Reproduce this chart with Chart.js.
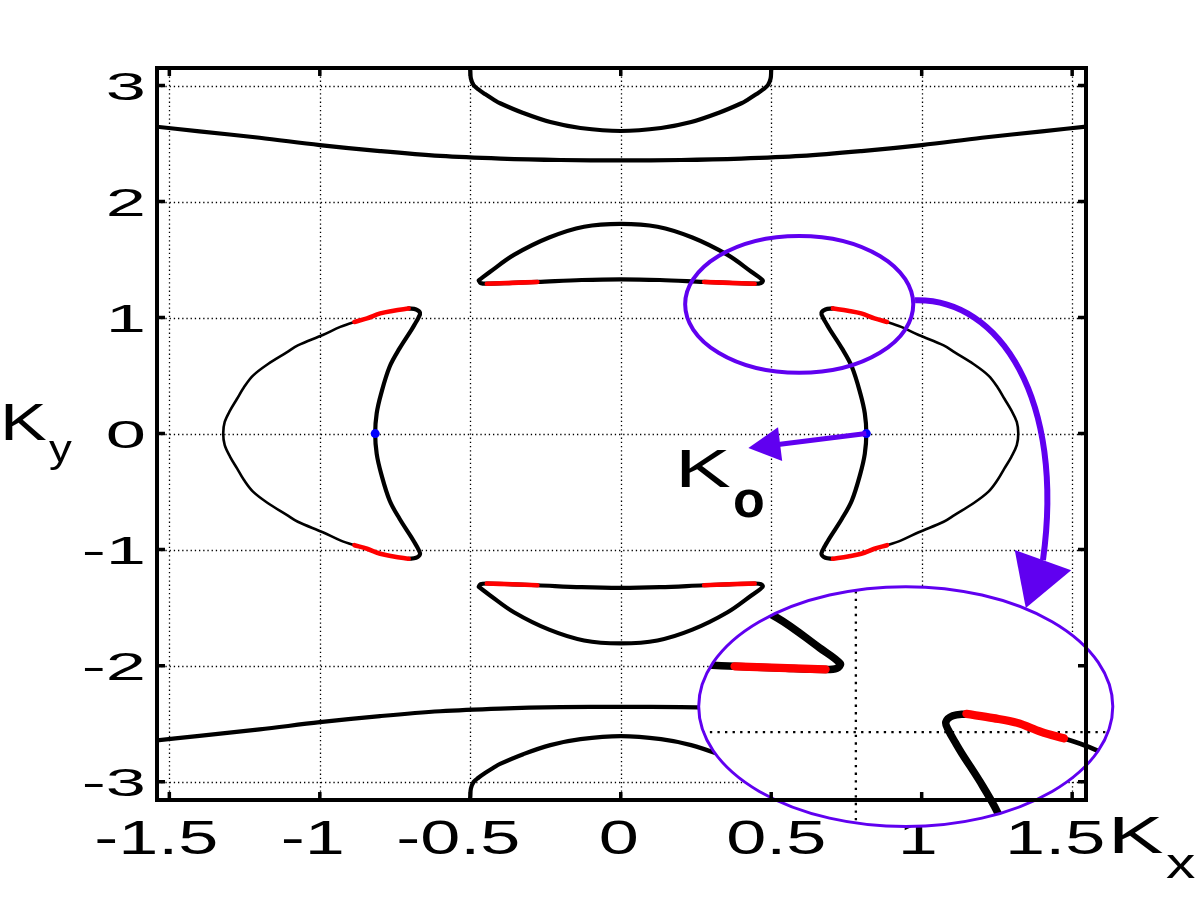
<!DOCTYPE html>
<html>
<head>
<meta charset="utf-8">
<title>Constant energy contours</title>
<script src="https://cdn.jsdelivr.net/npm/chart.js@4.4.1/dist/chart.umd.min.js"></script>
<style>
  html, body { margin: 0; padding: 0; background: #fff; }
  canvas { display: block; }
</style>
</head>
<body>
<canvas id="contourChart" width="1200" height="900"></canvas>
<script>
// ============================================
// DATA
// ============================================

const xTicks = [-1.5, -1, -0.5, 0, 0.5, 1, 1.5];
const xTickLabels = ['-1.5', '-1', '-0.5', '0', '0.5', '1', '1.5'];
const yTicks = [-3, -2, -1, 0, 1, 2, 3];
const yTickLabels = ['-3', '-2', '-1', '0', '1', '2', '3'];
const X_RANGE = [-1.541, 1.546];
const Y_RANGE = [-3.158, 3.151];

// long open curves near the top and bottom edge
const topLong = [[-1.56,2.65],[-1.4,2.605],[-1.2,2.55],[-1.0,2.487],[-0.8,2.435],[-0.6,2.393],[-0.4,2.37],[-0.2,2.358],[0,2.355],[0.2,2.358],[0.4,2.37],[0.6,2.393],[0.8,2.435],[1.0,2.487],[1.2,2.55],[1.4,2.605],[1.56,2.65]];
const bottomLong = [[-1.56,-2.65],[-1.4,-2.605],[-1.2,-2.55],[-1.0,-2.487],[-0.8,-2.435],[-0.6,-2.393],[-0.4,-2.37],[-0.2,-2.358],[0,-2.355],[0.2,-2.358],[0.4,-2.37],[0.6,-2.393],[0.8,-2.435],[1.0,-2.487],[1.2,-2.55],[1.4,-2.605],[1.56,-2.65]];

// caps cut by the top / bottom border
const topCap = [[-0.502,3.17],[-0.5,3.132],[-0.498,3.06],[-0.489,3.003],[-0.473,2.966],[-0.451,2.926],[-0.423,2.88],[-0.401,2.847],[-0.324,2.763],[-0.234,2.685],[-0.134,2.634],[0,2.608],[0.134,2.634],[0.234,2.685],[0.324,2.763],[0.401,2.847],[0.423,2.88],[0.451,2.926],[0.473,2.966],[0.489,3.003],[0.498,3.06],[0.5,3.132],[0.502,3.17]];
const bottomCap = [[-0.502,-3.17],[-0.5,-3.132],[-0.498,-3.06],[-0.489,-3.003],[-0.473,-2.966],[-0.451,-2.926],[-0.423,-2.88],[-0.401,-2.847],[-0.324,-2.763],[-0.234,-2.685],[-0.134,-2.634],[0,-2.608],[0.134,-2.634],[0.234,-2.685],[0.324,-2.763],[0.401,-2.847],[0.423,-2.88],[0.451,-2.926],[0.473,-2.966],[0.489,-3.003],[0.498,-3.06],[0.5,-3.132],[0.502,-3.17]];

// upper / lower crescents (closed)
const upperCrescent = [[-0.472,1.32],[-0.434,1.395],[-0.355,1.54],[-0.238,1.69],[-0.122,1.783],[0,1.808],[0.122,1.783],[0.238,1.69],[0.355,1.54],[0.434,1.395],[0.472,1.32],[0.466,1.298],[0.445,1.292],[0.36,1.299],[0.277,1.307],[0.13,1.324],[0,1.33],[-0.13,1.324],[-0.277,1.307],[-0.36,1.299],[-0.445,1.292],[-0.466,1.298],[-0.472,1.32]];
const lowerCrescent = [[-0.472,-1.32],[-0.434,-1.395],[-0.355,-1.54],[-0.238,-1.69],[-0.122,-1.783],[0,-1.808],[0.122,-1.783],[0.238,-1.69],[0.355,-1.54],[0.434,-1.395],[0.472,-1.32],[0.466,-1.298],[0.445,-1.292],[0.36,-1.299],[0.277,-1.307],[0.13,-1.324],[0,-1.33],[-0.13,-1.324],[-0.277,-1.307],[-0.36,-1.299],[-0.445,-1.292],[-0.466,-1.298],[-0.472,-1.32]];

// side crescents: thick inner edge, thin outer edge
const rightInner = [[0.705,1.079],[0.68,1.07],[0.667,1.04],[0.672,1.0],[0.685,0.94],[0.696,0.892],[0.735,0.734],[0.768,0.576],[0.796,0.347],[0.811,0.174],[0.816,0],[0.811,-0.174],[0.796,-0.347],[0.768,-0.576],[0.735,-0.734],[0.696,-0.892],[0.685,-0.94],[0.672,-1.0],[0.667,-1.04],[0.68,-1.07],[0.705,-1.079]];
const rightOuter = [[0.705,1.079],[0.755,1.059],[0.799,1.036],[0.843,0.993],[0.885,0.962],[0.932,0.92],[0.99,0.85],[1.073,0.76],[1.11,0.7],[1.172,0.6],[1.222,0.5],[1.252,0.4],[1.275,0.3],[1.298,0.2],[1.316,0.1],[1.321,0],[1.316,-0.1],[1.298,-0.2],[1.275,-0.3],[1.252,-0.4],[1.222,-0.5],[1.172,-0.6],[1.11,-0.7],[1.073,-0.76],[0.99,-0.85],[0.932,-0.92],[0.885,-0.962],[0.843,-0.993],[0.799,-1.036],[0.755,-1.059],[0.705,-1.079]];
const leftInner = [[-0.705,1.079],[-0.68,1.07],[-0.667,1.04],[-0.672,1.0],[-0.685,0.94],[-0.696,0.892],[-0.735,0.734],[-0.768,0.576],[-0.796,0.347],[-0.811,0.174],[-0.816,0],[-0.811,-0.174],[-0.796,-0.347],[-0.768,-0.576],[-0.735,-0.734],[-0.696,-0.892],[-0.685,-0.94],[-0.672,-1.0],[-0.667,-1.04],[-0.68,-1.07],[-0.705,-1.079]];
const leftOuter = [[-0.705,1.079],[-0.755,1.059],[-0.799,1.036],[-0.843,0.993],[-0.885,0.962],[-0.932,0.92],[-0.99,0.85],[-1.073,0.76],[-1.11,0.7],[-1.172,0.6],[-1.222,0.5],[-1.252,0.4],[-1.275,0.3],[-1.298,0.2],[-1.316,0.1],[-1.321,0],[-1.316,-0.1],[-1.298,-0.2],[-1.275,-0.3],[-1.252,-0.4],[-1.222,-0.5],[-1.172,-0.6],[-1.11,-0.7],[-1.073,-0.76],[-0.99,-0.85],[-0.932,-0.92],[-0.885,-0.962],[-0.843,-0.993],[-0.799,-1.036],[-0.755,-1.059],[-0.705,-1.079]];

// red stretches
const upperRedL = [[-0.445,1.292],[-0.36,1.299],[-0.277,1.307]];
const upperRedR = [[0.277,1.307],[0.36,1.299],[0.445,1.292]];
const lowerRedL = [[-0.445,-1.292],[-0.36,-1.299],[-0.277,-1.307]];
const lowerRedR = [[0.277,-1.307],[0.36,-1.299],[0.445,-1.292]];
const rightRedTop = [[0.705,1.079],[0.755,1.059],[0.799,1.036],[0.843,0.993],[0.885,0.962]];
const rightRedBot = [[0.705,-1.079],[0.755,-1.059],[0.799,-1.036],[0.843,-0.993],[0.885,-0.962]];
const leftRedTop = [[-0.705,1.079],[-0.755,1.059],[-0.799,1.036],[-0.843,0.993],[-0.885,0.962]];
const leftRedBot = [[-0.705,-1.079],[-0.755,-1.059],[-0.799,-1.036],[-0.843,-0.993],[-0.885,-0.962]];

// K0 points
const k0Points = [[-0.816,0],[0.816,0]];

// annotation anchors (data units)
const zoomCenter = [0.593, 1.114];
const zoomRadius = [0.379, 0.59];
const insetCenter = [0.947, -2.353];
const insetRadius = [0.688, 1.034];
const INSET_ZOOM = 1.8;
const k0ArrowTip = [0.424, -0.125];
const curvedArrow = [[0.978,1.149],[1.261,1.168],[1.477,0.289],[1.403,-1.091]];
const curvedArrowTip = [1.346, -1.504];

// ============================================
// STYLE
// ============================================

const BLACK = '#000000';
const RED = '#ff0000';
const BLUE = '#0000ff';
const VIOLET = '#6000f0';
const LINE_THICK = 4.2;
const LINE_THIN = 2.6;
const LINE_RED = 4.6;
const FONT = "'Liberation Sans', Arial, sans-serif";
const TICK_LEN = 8;
const X_LABEL_NUDGE = [-13, -7, -12, -2, 5, -4, -17]; // px, as placed in the figure

function curve(points, color, width, order) {
  return {
    data: points.map(p => ({ x: p[0], y: p[1] })),
    showLine: true,
    borderColor: color,
    borderWidth: width,
    borderJoinStyle: 'round',
    borderCapStyle: 'round',
    pointRadius: 0,
    pointHoverRadius: 0,
    tension: 0.35,
    fill: false,
    order: order
  };
}

const datasets = [
  curve(topLong, BLACK, LINE_THICK, 3),
  curve(bottomLong, BLACK, LINE_THICK, 3),
  curve(topCap, BLACK, LINE_THICK, 3),
  curve(bottomCap, BLACK, LINE_THICK, 3),
  curve(upperCrescent, BLACK, LINE_THICK, 3),
  curve(lowerCrescent, BLACK, LINE_THICK, 3),
  curve(rightOuter, BLACK, LINE_THIN, 3),
  curve(leftOuter, BLACK, LINE_THIN, 3),
  curve(rightInner, BLACK, LINE_THICK, 2),
  curve(leftInner, BLACK, LINE_THICK, 2),
  curve(upperRedL, RED, LINE_RED, 1),
  curve(upperRedR, RED, LINE_RED, 1),
  curve(lowerRedL, RED, LINE_RED, 1),
  curve(lowerRedR, RED, LINE_RED, 1),
  curve(rightRedTop, RED, LINE_RED, 1),
  curve(rightRedBot, RED, LINE_RED, 1),
  curve(leftRedTop, RED, LINE_RED, 1),
  curve(leftRedBot, RED, LINE_RED, 1),
  {
    data: k0Points.map(p => ({ x: p[0], y: p[1] })),
    showLine: false,
    pointRadius: 4.5,
    pointBackgroundColor: BLUE,
    pointBorderWidth: 0,
    order: 0
  }
];

// ============================================
// DRAW HELPERS
// ============================================

function drawStretched(ctx, text, px, py, font, sx, align) {
  ctx.save();
  ctx.translate(px, py);
  ctx.scale(sx, 1);
  ctx.font = font;
  ctx.fillStyle = BLACK;
  ctx.textAlign = align;
  ctx.textBaseline = 'alphabetic';
  ctx.fillText(text, 0, 0);
  ctx.restore();
}

function drawGrid(chart) {
  const { ctx, chartArea: a, scales: { x, y } } = chart;
  ctx.save();
  ctx.strokeStyle = BLACK;
  ctx.lineWidth = 1.3;
  ctx.setLineDash([1.3, 2.9]);
  ctx.beginPath();
  xTicks.forEach(v => {
    const px = Math.round(x.getPixelForValue(v)) + 0.5;
    ctx.moveTo(px, a.top);
    ctx.lineTo(px, a.bottom);
  });
  yTicks.forEach(v => {
    const py = Math.round(y.getPixelForValue(v)) + 0.5;
    ctx.moveTo(a.left, py);
    ctx.lineTo(a.right, py);
  });
  ctx.stroke();
  ctx.restore();
}

function arrowHead(ctx, tip, base, halfWidth) {
  const dx = tip[0] - base[0], dy = tip[1] - base[1];
  const len = Math.hypot(dx, dy);
  const nx = -dy / len, ny = dx / len;
  ctx.beginPath();
  ctx.moveTo(tip[0], tip[1]);
  ctx.lineTo(base[0] + nx * halfWidth, base[1] + ny * halfWidth);
  ctx.lineTo(base[0] - nx * halfWidth, base[1] - ny * halfWidth);
  ctx.closePath();
  ctx.fill();
}

// ============================================
// PLUGIN: MATLAB-like frame, inset and notes
// ============================================

const framePlugin = {
  id: 'matlabFrame',

  beforeDraw(chart) {
    const ctx = chart.ctx;
    ctx.save();
    ctx.fillStyle = '#ffffff';
    ctx.fillRect(0, 0, chart.width, chart.height);
    ctx.restore();
  },

  beforeDatasetsDraw(chart) {
    const { ctx, chartArea: a, scales: { x, y } } = chart;
    drawGrid(chart);

    // tick labels (wide, as in the exported figure)
    xTicks.forEach((v, i) => {
      drawStretched(ctx, xTickLabels[i], x.getPixelForValue(v) + X_LABEL_NUDGE[i], a.bottom + 54, '48px ' + FONT, 1.5, 'center');
    });
    yTicks.forEach((v, i) => {
      drawStretched(ctx, yTickLabels[i], a.left - 11, y.getPixelForValue(v) + 14, '38px ' + FONT, 1.9, 'right');
    });
  },

  afterDatasetsDraw(chart) {
    const { ctx, scales: { x, y } } = chart;
    const cx = x.getPixelForValue(insetCenter[0]);
    const cy = y.getPixelForValue(insetCenter[1]);
    const rx = x.getPixelForValue(insetCenter[0] + insetRadius[0]) - cx;
    const ry = cy - y.getPixelForValue(insetCenter[1] + insetRadius[1]);
    const zx = x.getPixelForValue(zoomCenter[0]);
    const zy = y.getPixelForValue(zoomCenter[1]);

    // magnified copy of the circled region
    ctx.save();
    ctx.beginPath();
    ctx.ellipse(cx, cy, rx, ry, 0, 0, Math.PI * 2);
    ctx.fillStyle = '#ffffff';
    ctx.fill();
    ctx.clip();
    ctx.translate(cx, cy);
    ctx.scale(INSET_ZOOM, INSET_ZOOM);
    ctx.translate(-zx, -zy);
    drawGrid(chart);
    const metas = chart.getSortedVisibleDatasetMetas();
    for (let i = metas.length - 1; i >= 0; i--) {
      metas[i].controller.draw();
    }
    ctx.restore();

    ctx.save();
    ctx.beginPath();
    ctx.ellipse(cx, cy, rx, ry, 0, 0, Math.PI * 2);
    ctx.lineWidth = 3;
    ctx.strokeStyle = VIOLET;
    ctx.stroke();
    ctx.restore();
  },

  afterDraw(chart) {
    const { ctx, chartArea: a, scales: { x, y } } = chart;
    const px = p => [x.getPixelForValue(p[0]), y.getPixelForValue(p[1])];

    // box + inward ticks on all four sides
    ctx.save();
    ctx.strokeStyle = BLACK;
    ctx.lineWidth = 4;
    ctx.strokeRect(a.left, a.top, a.right - a.left, a.bottom - a.top);
    ctx.lineWidth = 3.5;
    ctx.beginPath();
    xTicks.forEach(v => {
      const p = x.getPixelForValue(v);
      ctx.moveTo(p, a.bottom); ctx.lineTo(p, a.bottom - TICK_LEN);
      ctx.moveTo(p, a.top); ctx.lineTo(p, a.top + TICK_LEN);
    });
    yTicks.forEach(v => {
      const p = y.getPixelForValue(v);
      ctx.moveTo(a.left, p); ctx.lineTo(a.left + TICK_LEN, p);
      ctx.moveTo(a.right, p); ctx.lineTo(a.right - TICK_LEN, p);
    });
    ctx.stroke();
    ctx.restore();

    // violet annotations
    ctx.save();
    ctx.strokeStyle = VIOLET;
    ctx.fillStyle = VIOLET;

    // small ellipse around the region that is magnified
    const zc = px(zoomCenter);
    const zrx = x.getPixelForValue(zoomCenter[0] + zoomRadius[0]) - zc[0];
    const zry = zc[1] - y.getPixelForValue(zoomCenter[1] + zoomRadius[1]);
    ctx.lineWidth = 4;
    ctx.beginPath();
    ctx.ellipse(zc[0], zc[1], zrx, zry, 0, 0, Math.PI * 2);
    ctx.stroke();

    // straight arrow from K0 to its label
    const start = px(k0Points[1]);
    const tip = px(k0ArrowTip);
    const len = Math.hypot(tip[0] - start[0], tip[1] - start[1]);
    const ux = (tip[0] - start[0]) / len, uy = (tip[1] - start[1]) / len;
    const base = [tip[0] - ux * 32, tip[1] - uy * 32];
    ctx.lineWidth = 5;
    ctx.beginPath();
    ctx.moveTo(start[0], start[1]);
    ctx.lineTo(base[0] + ux * 2, base[1] + uy * 2);
    ctx.stroke();
    arrowHead(ctx, tip, base, 17);

    // curved arrow to the inset
    const c = curvedArrow.map(px);
    ctx.lineWidth = 6;
    ctx.beginPath();
    ctx.moveTo(c[0][0], c[0][1]);
    ctx.bezierCurveTo(c[1][0], c[1][1], c[2][0], c[2][1], c[3][0], c[3][1]);
    ctx.stroke();
    arrowHead(ctx, px(curvedArrowTip), c[3], 30);
    ctx.restore();

    // axis names and K0 label
    drawStretched(ctx, 'K', 0, 440, '52px ' + FONT, 1.35, 'left');
    drawStretched(ctx, 'y', 49, 462, '38px ' + FONT, 1.2, 'left');
    drawStretched(ctx, 'K', 1108, 853, '52px ' + FONT, 1.6, 'left');
    drawStretched(ctx, 'x', 1166, 878, '42px ' + FONT, 1.4, 'left');
    drawStretched(ctx, 'K', 675, 487, '54px ' + FONT, 1.55, 'left');
    drawStretched(ctx, 'o', 733, 517, 'bold 52px ' + FONT, 1.0, 'left');
  }
};

// ============================================
// CHART
// ============================================

function initializeChart() {
  const ctx = document.getElementById('contourChart').getContext('2d');

  return new Chart(ctx, {
    type: 'scatter',
    data: { datasets: datasets },
    options: {
      responsive: false,
      animation: false,
      events: [],
      layout: { padding: { top: 68, right: 114, left: 0, bottom: 0 } },
      plugins: {
        legend: { display: false },
        tooltip: { enabled: false },
        title: { display: false }
      },
      scales: {
        x: {
          type: 'linear',
          min: X_RANGE[0],
          max: X_RANGE[1],
          grid: { display: false },
          border: { display: false },
          ticks: { display: false },
          afterFit: scale => { scale.height = 100; }
        },
        y: {
          type: 'linear',
          min: Y_RANGE[0],
          max: Y_RANGE[1],
          grid: { display: false },
          border: { display: false },
          ticks: { display: false },
          afterFit: scale => { scale.width = 157; }
        }
      }
    },
    plugins: [framePlugin]
  });
}

initializeChart();
</script>
</body>
</html>
